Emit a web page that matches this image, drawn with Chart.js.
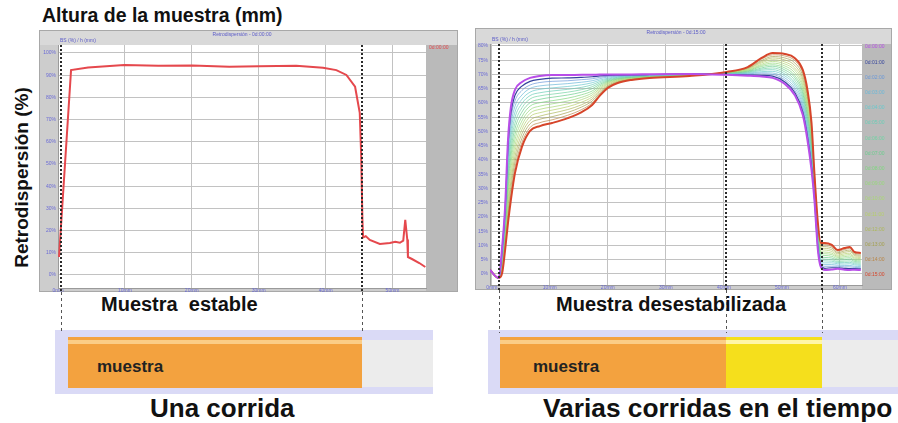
<!DOCTYPE html>
<html>
<head>
<meta charset="utf-8">
<script src="https://cdn.jsdelivr.net/npm/chart.js@4.4.1/dist/chart.umd.min.js"></script>
<style>
  html, body { margin: 0; padding: 0; background: #ffffff; }
  body { width: 898px; height: 423px; position: relative; overflow: hidden;
         font-family: "Liberation Sans", Arial, sans-serif; }
  .t { position: absolute; font-weight: bold; color: #111; white-space: pre; line-height: 1; }
  canvas { position: absolute; top: 0; }
  #leftChart { left: 0; }
  #rightChart { left: 466px; }
  .tube { position: absolute; top: 330px; height: 64px; background: #dadaf6; }
  .tube div { position: absolute; }
  .orange { background: #f3a23f; top: 7px; height: 51px; }
  .yellow { background: #f5df1c; top: 7px; height: 51px; }
  .gray   { background: #ececec; top: 10px; height: 47px; }
  .shine  { left: 0; right: 0; top: 3px; height: 4px; }
</style>
</head>
<body>

<!-- sample tubes -->
<div class="tube" style="left:55px; width:378px;">
  <div class="orange" style="left:13px; width:294px;"><div class="shine" style="background:#fbcd86;"></div></div>
  <div class="gray" style="left:307px; width:71px;"></div>
</div>
<div class="tube" style="left:488px; width:410px;">
  <div class="orange" style="left:12px; width:226px;"><div class="shine" style="background:#fbcd86;"></div></div>
  <div class="yellow" style="left:238px; width:96px;"><div class="shine" style="background:#fff6a6;"></div></div>
  <div class="gray" style="left:334px; width:76px;"></div>
</div>

<div class="t" style="left:42px; top:6px; font-size:19.5px;">Altura de la muestra (mm)</div>
<div class="t" style="left:-74px; top:168px; width:190px; height:19px; font-size:19px; text-align:center; transform:rotate(-90deg);">Retrodispersión (%)</div>
<div class="t" style="left:101px; top:294px; font-size:20px;">Muestra  estable</div>
<div class="t" style="left:556px; top:294px; font-size:20px;">Muestra desestabilizada</div>
<div class="t" style="left:97px; top:358px; font-size:17px; color:#222;">muestra</div>
<div class="t" style="left:533px; top:358px; font-size:17px; color:#222;">muestra</div>
<div class="t" style="left:150px; top:395px; font-size:26px;">Una corrida</div>
<div class="t" style="left:543px; top:395px; font-size:26.3px;">Varias corridas en el tiempo</div>

<canvas id="leftChart" width="466" height="423"></canvas>
<canvas id="rightChart" width="432" height="423"></canvas>

<script>
// ---- single run, stable sample: height (mm) vs backscattering (%) ----
const stableHeight = [0.15, 1.95, 4.5, 9.9, 15.0, 20.1, 25.6, 30.0, 35.6, 39.6, 41.6, 43.1, 44.4, 45.1, 45.3, 45.5,
  45.6, 46.0, 46.6, 48.1, 49.6, 50.4, 51.1, 51.6, 51.9, 52.2, 52.3, 52.9, 54.0, 54.9];
const stableBS = [8.1, 92.3, 93.5, 94.6, 94.2, 94.4, 93.8, 94.0, 94.3, 93.4, 92.3, 90.1, 84.8, 73.0, 55.0, 24.8,
  16.9, 17.5, 15.8, 14.0, 14.4, 15.0, 14.5, 15.5, 24.8, 16.0, 8.1, 7.2, 5.4, 3.6];
const stableLabel = '0d:00:00';
const stableCuts = [0.4, 45.4];         // sample bottom and top (mm)
const stableYTicks = [0, 10, 20, 30, 40, 50, 60, 70, 80, 90, 100];
const stableXTicks = [0, 10, 20, 30, 40, 50];

// ---- repeated runs, destabilizing sample ----
const runHeight = [-0.3, 1.2, 1.8, 2.3, 2.8, 3.3, 4.0, 5.2, 6.6, 8.3, 10.4, 13.1, 15.5, 17.3, 18.6, 20.0, 21.7,
  24.1, 27.2, 34.1, 40.5, 44.1, 46.5, 48.4, 50.5, 52.2, 53.6, 54.4, 55.1, 55.6, 56.2, 56.7, 57.4, 58.6, 59.6,
  60.8, 61.7, 62.5, 63.6];
const run00 = [1.4, -1.4, 9.6, 23.5, 47.0, 58.6, 64.6, 67.4, 68.8, 69.5, 69.8, 69.8, 69.9, 69.9, 70.0, 70.0, 70.0, 70.0, 70.1, 70.2, 69.9, 69.6, 69.3, 68.8, 66.7, 62.8, 55.8, 47.0, 36.5, 26.0, 8.4, 2.5, 1.4, 1.6, 1.8, 1.5, 1.4, 1.5, 1.4];
const run01 = [1.4, -1.4, 9.0, 22.5, 45.1, 56.4, 62.7, 65.9, 67.6, 68.3, 68.7, 68.8, 69.0, 69.2, 69.5, 69.7, 69.8, 69.9, 70.0, 70.2, 70.0, 69.8, 69.7, 69.4, 67.4, 63.7, 56.9, 48.2, 37.6, 26.6, 9.0, 3.1, 2.0, 2.2, 2.2, 2.0, 1.9, 1.9, 1.8];
const run02 = [1.4, -1.4, 8.4, 21.5, 43.1, 54.3, 60.7, 64.4, 66.3, 67.2, 67.6, 67.8, 68.2, 68.5, 69.0, 69.4, 69.6, 69.7, 69.9, 70.1, 70.0, 70.0, 70.2, 70.0, 68.1, 64.5, 57.9, 49.3, 38.7, 27.3, 9.7, 3.6, 2.7, 2.7, 2.7, 2.5, 2.5, 2.3, 2.2];
const run03 = [1.4, -1.4, 7.8, 20.5, 41.2, 52.1, 58.8, 62.8, 65.1, 66.0, 66.4, 66.8, 67.3, 67.8, 68.5, 69.1, 69.4, 69.6, 69.8, 70.1, 70.1, 70.2, 70.6, 70.5, 68.8, 65.4, 59.0, 50.5, 39.8, 27.9, 10.3, 4.2, 3.3, 3.3, 3.1, 3.0, 3.0, 2.7, 2.6];
const run04 = [1.4, -1.4, 7.1, 19.5, 39.2, 49.9, 56.8, 61.3, 63.8, 64.8, 65.3, 65.8, 66.4, 67.1, 68.0, 68.7, 69.2, 69.5, 69.8, 70.0, 70.2, 70.4, 71.0, 71.1, 69.5, 66.3, 60.0, 51.7, 40.9, 28.5, 10.9, 4.7, 3.9, 3.9, 3.6, 3.5, 3.6, 3.2, 3.0];
const run05 = [1.4, -1.4, 6.5, 18.5, 37.3, 47.7, 54.9, 59.8, 62.6, 63.6, 64.2, 64.8, 65.5, 66.4, 67.5, 68.4, 69.0, 69.4, 69.7, 70.0, 70.2, 70.6, 71.5, 71.7, 70.2, 67.1, 61.1, 52.9, 42.0, 29.1, 11.6, 5.3, 4.6, 4.5, 4.0, 4.0, 4.1, 3.6, 3.4];
const run06 = [1.4, -1.4, 5.9, 17.5, 35.4, 45.6, 52.9, 58.3, 61.4, 62.5, 63.1, 63.8, 64.7, 65.7, 67.0, 68.1, 68.8, 69.2, 69.6, 69.9, 70.3, 70.8, 71.9, 72.3, 70.9, 68.0, 62.1, 54.0, 43.1, 29.8, 12.2, 5.9, 5.2, 5.0, 4.4, 4.5, 4.6, 4.0, 3.8];
const run07 = [1.4, -1.4, 5.3, 16.5, 33.4, 43.4, 51.0, 56.8, 60.1, 61.3, 62.0, 62.8, 63.8, 65.0, 66.5, 67.8, 68.6, 69.1, 69.5, 69.9, 70.4, 71.0, 72.3, 72.9, 71.6, 68.9, 63.2, 55.2, 44.2, 30.4, 12.8, 6.4, 5.8, 5.6, 4.9, 5.0, 5.2, 4.4, 4.2];
const run08 = [1.4, -1.4, 4.7, 15.4, 31.5, 41.2, 49.0, 55.2, 58.9, 60.1, 60.8, 61.7, 62.9, 64.2, 66.0, 67.5, 68.4, 69.0, 69.4, 69.8, 70.4, 71.2, 72.8, 73.4, 72.3, 69.7, 64.2, 56.4, 45.3, 31.0, 13.5, 7.0, 6.5, 6.2, 5.3, 5.6, 5.7, 4.8, 4.6];
const run09 = [1.4, -1.4, 4.1, 14.4, 29.5, 39.0, 47.1, 53.7, 57.6, 58.9, 59.7, 60.7, 62.0, 63.5, 65.5, 67.2, 68.2, 68.9, 69.3, 69.8, 70.5, 71.4, 73.2, 74.0, 73.0, 70.6, 65.3, 57.6, 46.4, 31.6, 14.1, 7.5, 7.1, 6.8, 5.8, 6.1, 6.3, 5.2, 5.0];
const run10 = [1.4, -1.4, 3.5, 13.4, 27.6, 36.9, 45.1, 52.2, 56.4, 57.8, 58.6, 59.7, 61.2, 62.8, 65.0, 66.9, 68.0, 68.7, 69.2, 69.7, 70.6, 71.6, 73.6, 74.6, 73.7, 71.5, 66.3, 58.7, 47.5, 32.3, 14.7, 8.1, 7.7, 7.3, 6.2, 6.6, 6.8, 5.6, 5.4];
const run11 = [1.4, -1.4, 2.9, 12.4, 25.7, 34.7, 43.2, 50.7, 55.2, 56.6, 57.5, 58.7, 60.3, 62.1, 64.5, 66.6, 67.8, 68.6, 69.1, 69.7, 70.6, 71.8, 74.1, 75.2, 74.4, 72.3, 67.4, 59.9, 48.6, 32.9, 15.4, 8.7, 8.4, 7.9, 6.6, 7.1, 7.3, 6.0, 5.8];
const run12 = [1.4, -1.4, 2.2, 11.4, 23.7, 32.5, 41.2, 49.2, 53.9, 55.4, 56.4, 57.7, 59.4, 61.4, 64.0, 66.2, 67.6, 68.5, 69.1, 69.6, 70.7, 72.0, 74.5, 75.8, 75.1, 73.2, 68.4, 61.1, 49.7, 33.5, 16.0, 9.2, 9.0, 8.5, 7.1, 7.6, 7.9, 6.5, 6.2];
const run13 = [1.4, -1.4, 1.6, 10.4, 21.8, 30.3, 39.3, 47.6, 52.7, 54.3, 55.2, 56.7, 58.6, 60.7, 63.5, 65.9, 67.4, 68.4, 69.0, 69.6, 70.8, 72.2, 74.9, 76.3, 75.8, 74.1, 69.5, 62.2, 50.8, 34.1, 16.6, 9.8, 9.6, 9.1, 7.5, 8.1, 8.4, 6.9, 6.6];
const run14 = [1.4, -1.4, 1.0, 9.4, 19.8, 28.2, 37.4, 46.1, 51.4, 53.1, 54.1, 55.7, 57.7, 60.0, 63.0, 65.6, 67.2, 68.2, 68.9, 69.5, 70.8, 72.4, 75.4, 76.9, 76.5, 74.9, 70.5, 63.4, 51.9, 34.8, 17.3, 10.3, 10.3, 9.6, 8.0, 8.6, 9.0, 7.3, 7.0];
const run15 = [1.4, -1.4, 0.4, 8.4, 17.9, 26.0, 35.4, 44.6, 50.2, 51.9, 53.0, 54.7, 56.8, 59.3, 62.5, 65.3, 67.0, 68.1, 68.8, 69.5, 70.9, 72.6, 75.8, 77.5, 77.2, 75.8, 71.6, 64.6, 53.0, 35.4, 17.9, 10.9, 10.9, 10.2, 8.4, 9.1, 9.5, 7.7, 7.4];
const runLabels = ['0d:00:00', '0d:01:00', '0d:02:00', '0d:03:00', '0d:04:00', '0d:05:00', '0d:06:00', '0d:07:00',
  '0d:08:00', '0d:09:00', '0d:10:00', '0d:11:00', '0d:12:00', '0d:13:00', '0d:14:00', '0d:15:00'];
const runColors = ['#b84ee8', '#34449c', '#6a98d8', '#6ab8d8', '#6ac8cc', '#6ccdb6', '#72d3a4', '#6ccd8e',
  '#80d680', '#98d87c', '#aad676', '#b6cf6c', '#adb85c', '#a4a050', '#b98648', '#d6452a'];
const runCuts = [1.2, 40.3, 56.9];      // sample bottom, clarified/cream boundary, sample top (mm)
const runYTicks = [0, 5, 10, 15, 20, 25, 30, 35, 40, 45, 50, 55, 60, 65, 70, 75, 80];
const runXTicks = [0, 10, 20, 30, 40, 50, 60];

const runs = [run00, run01, run02, run03, run04, run05, run06, run07, run08, run09, run10, run11, run12, run13, run14, run15];

Chart.defaults.font.family = '"Liberation Sans", Arial, sans-serif';

// grey instrument frame, legend strip and sample boundary markers
const frameFx = {
  id: 'frame',
  beforeDraw(chart, args, o) {
    const { ctx, chartArea: a } = chart;
    const L = a.left - o.padL, T = a.top - o.padT, R = a.right + o.padR, B = a.bottom + o.padB;
    ctx.save();
    ctx.fillStyle = '#cdcdcd'; ctx.fillRect(L, T, R - L, B - T);
    ctx.fillStyle = '#d9d9d9'; ctx.fillRect(L, T, R - L, o.padT);
    ctx.fillStyle = '#bababa'; ctx.fillRect(a.right, a.top, R - a.right, B - a.top);
    ctx.fillStyle = '#ffffff'; ctx.fillRect(a.left, a.top, a.right - a.left, a.bottom - a.top);
    ctx.strokeStyle = '#a8a8a8'; ctx.lineWidth = 1;
    ctx.strokeRect(L + 0.5, T + 0.5, R - L - 1, B - T - 1);
    ctx.font = '5px "Liberation Sans"'; ctx.fillStyle = '#5a5ac8'; ctx.textBaseline = 'middle';
    ctx.textAlign = 'center'; ctx.fillText(o.caption, (a.left + a.right) / 2, T + 5);
    ctx.textAlign = 'left'; ctx.fillText(o.axisName, a.left + 2, a.top - 4);
    ctx.restore();
  },
  afterDraw(chart, args, o) {
    const { ctx, chartArea: a, scales: { x } } = chart;
    ctx.save();
    o.cuts.forEach(v => {
      const px = Math.round(x.getPixelForValue(v));
      ctx.strokeStyle = '#2a2a2a'; ctx.lineWidth = 2; ctx.setLineDash([2, 2]);
      ctx.beginPath(); ctx.moveTo(px, a.top); ctx.lineTo(px, a.bottom + o.padB); ctx.stroke();
      ctx.strokeStyle = '#555555'; ctx.lineWidth = 1; ctx.setLineDash([3, 3]);
      ctx.beginPath(); ctx.moveTo(px + 0.5, a.bottom + o.padB); ctx.lineTo(px + 0.5, o.tubeTop); ctx.stroke();
    });
    ctx.setLineDash([]);
    ctx.font = '5px "Liberation Sans"'; ctx.textBaseline = 'middle'; ctx.textAlign = 'left';
    chart.data.datasets.forEach((d, i) => {
      ctx.fillStyle = d.borderColor;
      ctx.fillText(d.label, a.right + 3, a.top + 3 + i * o.legendStep);
    });
    ctx.restore();
  }
};

function axes(xMin, xMax, xTicks, yMin, yMax, yTicks, yWidth, xHeight) {
  const tickFont = { size: 5 };
  return {
    x: {
      type: 'linear', min: xMin, max: xMax,
      afterBuildTicks: s => { s.ticks = xTicks.map(v => ({ value: v })); },
      afterFit: s => { s.height = xHeight; },
      grid: { color: '#c2c2c2', lineWidth: 1, drawTicks: false },
      border: { display: true, color: '#9a9a9a' },
      ticks: { font: tickFont, color: '#6a6ad6', padding: 0, maxRotation: 0, callback: v => v + 'mm' }
    },
    y: {
      type: 'linear', min: yMin, max: yMax,
      afterBuildTicks: s => { s.ticks = yTicks.map(v => ({ value: v })); },
      afterFit: s => { s.width = yWidth; },
      grid: { color: '#c2c2c2', lineWidth: 1, drawTicks: false },
      border: { display: true, color: '#9a9a9a' },
      ticks: { font: tickFont, color: '#6a6ad6', padding: 2, callback: v => v + '%' }
    }
  };
}

new Chart(document.getElementById('leftChart'), {
  type: 'line',
  data: {
    datasets: [{
      label: stableLabel,
      data: stableHeight.map((h, i) => ({ x: h, y: stableBS[i] })),
      borderColor: '#e5484d', borderWidth: 2, pointRadius: 0, tension: 0
    }]
  },
  options: {
    responsive: false, animation: false, events: [], devicePixelRatio: 1,
    layout: { padding: { left: 39, right: 40, top: 45, bottom: 131 } },
    scales: axes(0, 55, stableXTicks, -5.86, 103.6, stableYTicks, 19, 4),
    plugins: {
      legend: { display: false }, tooltip: { enabled: false },
      frame: { padL: 19, padT: 15, padR: 32, padB: 4, tubeTop: 333, cuts: stableCuts, legendStep: 15,
               caption: 'Retrodispersión - 0d:00:00', axisName: 'BS (%) / h (mm)' }
    }
  },
  plugins: [frameFx]
});

new Chart(document.getElementById('rightChart'), {
  type: 'line',
  data: {
    datasets: runs.map((vals, i) => ({
      label: runLabels[i],
      data: vals.map((v, j) => ({ x: runHeight[j], y: v })),
      borderColor: runColors[i],
      borderWidth: (i === 0 || i === 15) ? 2 : (i === 1 ? 1.2 : 0.7),
      pointRadius: 0, cubicInterpolationMode: 'monotone',
      order: i === 0 ? 0 : (i === 15 ? 1 : 2)
    }))
  },
  options: {
    responsive: false, animation: false, events: [], devicePixelRatio: 1,
    layout: { padding: { left: 10, right: 36, top: 44, bottom: 133 } },
    scales: axes(-0.3, 63.8, runXTicks, -3.86, 80.7, runYTicks, 14, 5),
    plugins: {
      legend: { display: false }, tooltip: { enabled: false },
      frame: { padL: 15, padT: 16, padR: 30, padB: 5, tubeTop: 333, cuts: runCuts, legendStep: 15.2,
               caption: 'Retrodispersión - 0d:15:00', axisName: 'BS (%) / h (mm)' }
    }
  },
  plugins: [frameFx]
});
</script>
</body>
</html>
